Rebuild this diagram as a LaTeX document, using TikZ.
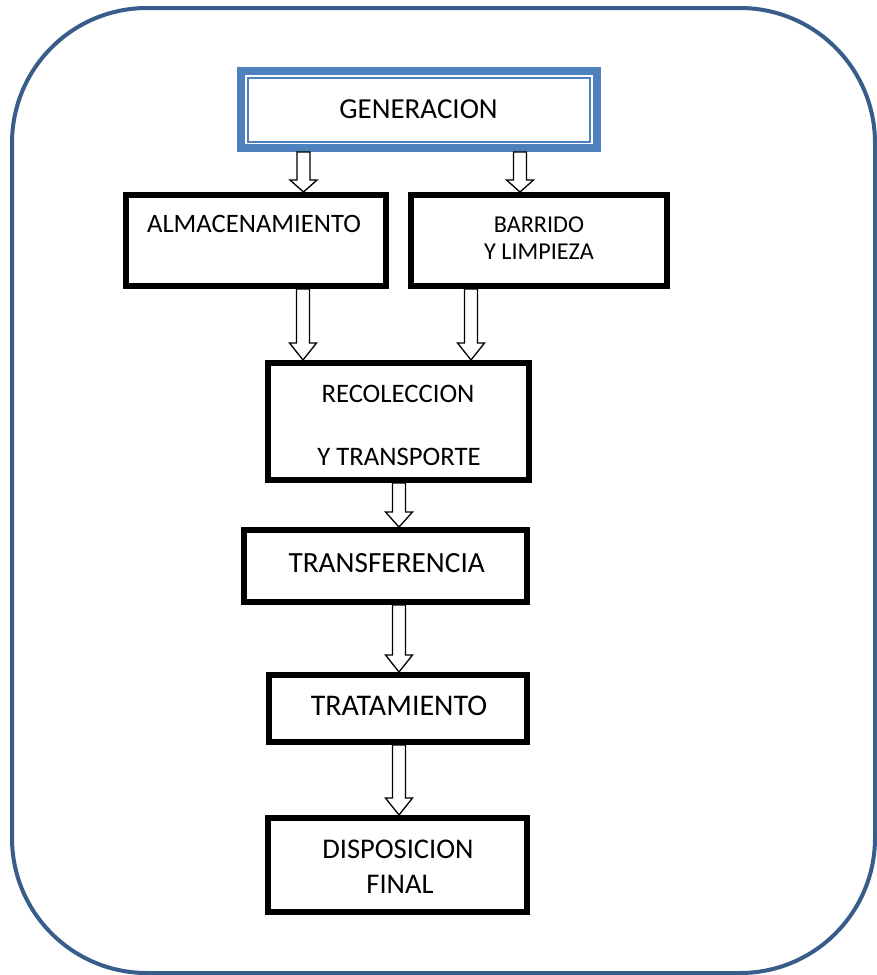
\documentclass[tikz,border=0pt]{standalone}
\usepackage{fontspec}
\setmainfont{Carlito}
\usetikzlibrary{calc}
\definecolor{frameblue}{HTML}{385D8A}
\definecolor{accblue}{HTML}{4F81BD}
\tikzset{
  stagebox/.style={draw=black, line width=6pt, fill=white, inner sep=0pt},
  blockarr/.style={draw=black, fill=white, line width=1.3pt, line join=miter},
  lbl/.style={anchor=base, inner sep=0pt, font=\fontsize{#1}{#1}\selectfont},
}
% #1 start node anchor, #2 end node anchor, #3 x position, #4 head length
\newcommand\blockarrow[4]{%
  \draw[blockarr] let \p1=(#1), \p2=(#2) in
    (#3pt-6.5pt,\y1) -- (#3pt+6.5pt,\y1) -- (#3pt+6.5pt,\y2+#4pt)
    -- (#3pt+13.5pt,\y2+#4pt) -- (#3pt,\y2) -- (#3pt-13.5pt,\y2+#4pt)
    -- (#3pt-6.5pt,\y2+#4pt) -- cycle;}
\begin{document}
\begin{tikzpicture}[x=1pt,y=-1pt]
\useasboundingbox (0,0) rectangle (877,975);
\draw[frameblue, line width=4pt, rounded corners=135pt] (12,8) rectangle (875,973);

% boxes
\node[draw=accblue, line width=8pt, fill=white, inner sep=0pt, minimum width=356pt, minimum height=77pt] (gen) at (419,109.5) {};
\draw[accblue, line width=1.6pt] ([shift={(11,11)}]gen.north west) rectangle ([shift={(-11,-10)}]gen.south east);
\node[stagebox, minimum width=260pt, minimum height=91pt] (alm) at (256,240.5) {};
\node[stagebox, minimum width=256pt, minimum height=91pt] (bar) at (539,240.5) {};
\node[stagebox, minimum width=261pt, minimum height=117pt] (rec) at (398.5,421.5) {};
\node[stagebox, minimum width=283pt, minimum height=72pt] (tra) at (385.5,566) {};
\node[stagebox, minimum width=258pt, minimum height=67pt] (trat) at (398,708.5) {};
\node[stagebox, minimum width=259pt, minimum height=94pt] (dis) at (397.5,865) {};

% texts
\node[lbl=29] (tgen) at (418.5,118) {GENERACION};
\node[lbl=26.6] (talm) at (254,232) {ALMACENAMIENTO};
\node[lbl=24.2] (tbar1) at (539,232) {BARRIDO};
\node[lbl=24.2] (tbar2) at (539,259) {Y LIMPIEZA};
\node[lbl=26.7] (trec1) at (398,402) {RECOLECCION};
\node[lbl=26.7] (trec2) at (399,465) {Y TRANSPORTE};
\node[lbl=29.3] (ttra) at (386.7,572) {TRANSFERENCIA};
\node[lbl=30] (ttrat) at (399,715) {TRATAMIENTO};
\node[lbl=28.5] (tdis1) at (398,858) {DISPOSICION};
\node[lbl=28.5] (tdis2) at (400,893) {FINAL};

% arrows
\blockarrow{gen.south}{alm.north}{303.5}{12}
\blockarrow{gen.south}{bar.north}{520}{12}
\blockarrow{alm.south}{rec.north}{303}{17}
\blockarrow{bar.south}{rec.north}{471}{17}
\blockarrow{rec.south}{tra.north}{399}{15}
\blockarrow{tra.south}{trat.north}{399}{17}
\blockarrow{trat.south}{dis.north}{399}{17}
\end{tikzpicture}
\end{document}
